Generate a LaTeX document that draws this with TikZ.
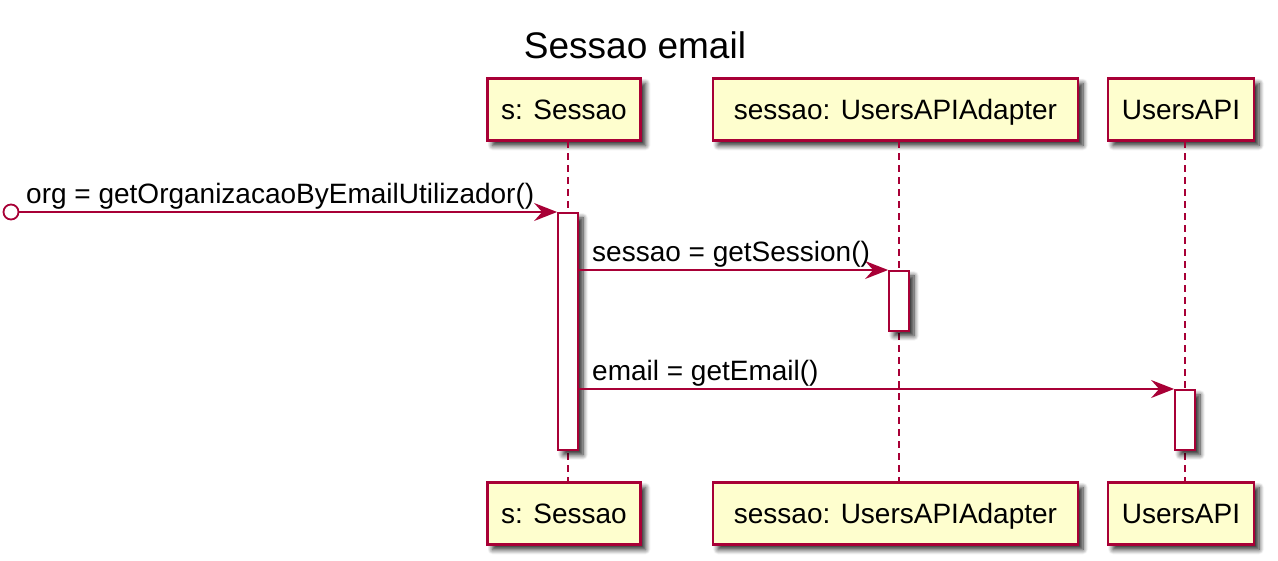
\documentclass[tikz,border=0pt]{standalone}
\usepackage{fontspec}
\setmainfont{Liberation Sans}
\usetikzlibrary{arrows.meta,shadows.blur}
\definecolor{umlred}{HTML}{A80036}
\definecolor{umlfill}{HTML}{FEFECE}
\tikzset{
    umlshadow/.style={blur shadow={shadow xshift=5pt,shadow yshift=-5pt,shadow blur radius=5pt,
        shadow blur steps=8,shadow opacity=85}},
    participant/.style={draw=umlred,fill=umlfill,line width=2.2pt,minimum height=62pt,
        inner sep=0pt,text height=20pt,text depth=0pt,font=\fontsize{28}{32}\selectfont,umlshadow},
    activation/.style={draw=umlred,fill=white,line width=1.8pt,minimum width=20pt,
        inner sep=0pt,anchor=north,umlshadow},
    lifeline/.style={draw=umlred,line width=1.6pt,dash pattern=on 7pt off 5pt},
    msg/.style={draw=umlred,line width=1.8pt,-{Stealth[length=23pt,width=18pt,inset=8pt]}},
    msglabel/.style={font=\fontsize{28}{32}\selectfont,inner sep=0pt,anchor=base west},
    startdot/.style={circle,draw=umlred,fill=white,line width=1.8pt,minimum size=15pt,inner sep=0pt}
}
\begin{document}
\begin{tikzpicture}[x=1pt,y=-1pt]
\useasboundingbox (0,0) rectangle (1278,560);

\node[font=\fontsize{37}{40}\selectfont,anchor=base] (title) at (635,58) {Sessao email};

% participants
\node[participant,minimum width=153pt] (sTop) at (564,109.5) {s: Sessao};
\node[participant,minimum width=365pt] (adapterTop) at (895.5,109.5) {sessao: UsersAPIAdapter};
\node[participant,minimum width=146pt] (apiTop) at (1181,109.5) {UsersAPI};
\node[participant,minimum width=153pt] (sBot) at (564,513.5) {s: Sessao};
\node[participant,minimum width=365pt] (adapterBot) at (895.5,513.5) {sessao: UsersAPIAdapter};
\node[participant,minimum width=146pt] (apiBot) at (1181,513.5) {UsersAPI};

% lifelines
\draw[lifeline] (568,141) -- (568,483);
\draw[lifeline] (899,141) -- (899,483);
\draw[lifeline] (1185,141) -- (1185,483);

% activations
\node[activation,minimum height=237pt] (actS) at (568,212) {};
\node[activation,minimum height=60pt] (actAdapter) at (899,270) {};
\node[activation,minimum height=60pt] (actApi) at (1185,389) {};

% messages
\node[startdot] (caller) at (11,212) {};
\draw[msg] (caller.east) -- (actS.north west);
\node[msglabel] (m1) at (26,203) {org = getOrganizacaoByEmailUtilizador()};
\draw[msg] (actS.east |- actAdapter.north) -- (actAdapter.north west);
\node[msglabel] (m2) at (592,261) {sessao = getSession()};
\draw[msg] (actS.east |- actApi.north) -- (actApi.north west);
\node[msglabel] (m3) at (592,380) {email = getEmail()};

\end{tikzpicture}
\end{document}
